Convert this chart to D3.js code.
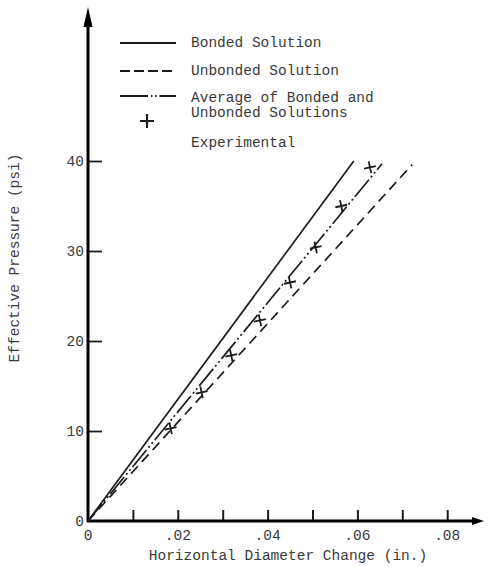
<!DOCTYPE html>
<html>
<head>
<meta charset="utf-8">
<script src="https://cdn.jsdelivr.net/npm/d3@7"></script>
<style>
  html, body { margin: 0; padding: 0; background: #fff; }
  svg { display: block; }
  text { font-family: "Liberation Mono", "DejaVu Sans Mono", monospace; fill: #3a3a3a; }
</style>
</head>
<body>
<svg id="chart" width="488" height="567"></svg>
<script>
// Pressure (psi) versus horizontal diameter change (in.)
const xTicks = [0.01, 0.02, 0.03, 0.04, 0.05, 0.06, 0.07, 0.08];
const xTickLabels = ["0", ".02", ".04", ".06", ".08"];
const xLabelValues = [0, 0.02, 0.04, 0.06, 0.08];
const yTicks = [10, 20, 30, 40];
const yTickLabels = ["0", "10", "20", "30", "40"];
const yLabelValues = [0, 10, 20, 30, 40];

// Theoretical solutions: straight lines from the origin
const bondedX = [0, 0.0592];
const bondedY = [0, 40];
const unbondedX = [0, 0.0722];
const unbondedY = [0, 39.6];
const averageX = [0, 0.0655];
const averageY = [0, 39.7];

// Measured points
const expX = [0.0184, 0.0253, 0.0319, 0.0383, 0.0450, 0.0507, 0.0564, 0.0628];
const expY = [10.3, 14.3, 18.4, 22.3, 26.5, 30.4, 35.0, 39.3];

const legendLabels = [
  ["Bonded Solution"],
  ["Unbonded Solution"],
  ["Average of Bonded and", "Unbonded Solutions"],
  ["Experimental"]
];

const svg = d3.select("#chart");
const x = d3.scaleLinear().domain([0, 0.09]).range([88, 492.1]);
const y = d3.scaleLinear().domain([0, 40]).range([521, 161]);

const ink = "#1c1c1c";

// Axis ticks (pointing into the plot) and labels
const xAxis = d3.axisBottom(x).tickValues(xTicks).tickSizeInner(-11).tickSizeOuter(0).tickFormat("");
svg.append("g").attr("transform", `translate(0,${y(0)})`).call(xAxis)
  .call(g => g.select(".domain").remove())
  .call(g => g.selectAll(".tick line").attr("stroke", ink).attr("stroke-width", 2));

svg.append("g").selectAll("text").data(xLabelValues).join("text")
  .attr("x", d => x(d)).attr("y", 540)
  .attr("text-anchor", "middle").attr("font-size", 14.5)
  .text((d, i) => xTickLabels[i]);

const yAxis = d3.axisLeft(y).tickValues(yTicks).tickSizeInner(-14).tickSizeOuter(0).tickFormat("");
svg.append("g").attr("transform", `translate(${x(0)},0)`).call(yAxis)
  .call(g => g.select(".domain").remove())
  .call(g => g.selectAll(".tick line").attr("stroke", ink).attr("stroke-width", 1.8));

svg.append("g").selectAll("text").data(yLabelValues).join("text")
  .attr("x", 84).attr("y", d => y(d) + 5)
  .attr("text-anchor", "end").attr("font-size", 14.5)
  .text((d, i) => yTickLabels[i]);

// Axis lines with arrowheads
svg.append("line").attr("x1", x(0)).attr("y1", y(0) + 1).attr("x2", x(0)).attr("y2", 22)
  .attr("stroke", "#000").attr("stroke-width", 3);
svg.append("path").attr("d", `M${x(0)},7 L${x(0) - 4.5},27 L${x(0) + 4.5},27 Z`).attr("fill", "#000");
svg.append("line").attr("x1", x(0) - 1).attr("y1", y(0)).attr("x2", 474).attr("y2", y(0))
  .attr("stroke", "#000").attr("stroke-width", 3);
svg.append("path").attr("d", `M484,${y(0)} L472,${y(0) - 4} L472,${y(0) + 4} Z`).attr("fill", "#000");

// Axis titles
svg.append("text").attr("x", 288).attr("y", 560).attr("text-anchor", "middle")
  .attr("font-size", 14.5).text("Horizontal Diameter Change (in.)");
svg.append("text").attr("transform", "translate(19,258) rotate(-90)").attr("text-anchor", "middle")
  .attr("font-size", 14.5).text("Effective Pressure (psi)");

// Solution lines
const line = d3.line().x(d => x(d[0])).y(d => y(d[1]));
const styles = {
  bonded: { dash: null, w: 1.7 },
  unbonded: { dash: "10,6", w: 1.7 },
  average: { dash: "22,3,2,3,2,3", w: 1.7 }
};
const series = [
  { key: "bonded", pts: d3.zip(bondedX, bondedY) },
  { key: "average", pts: d3.zip(averageX, averageY) },
  { key: "unbonded", pts: d3.zip(unbondedX, unbondedY) }
];
svg.append("g").selectAll("path").data(series).join("path")
  .attr("d", d => line(d.pts)).attr("fill", "none").attr("stroke", ink)
  .attr("stroke-width", d => styles[d.key].w)
  .attr("stroke-dasharray", d => styles[d.key].dash);

// Experimental crosses
const cross = s => `M${-s},0 L${s},0 M0,${-s} L0,${s}`;
svg.append("g").selectAll("path").data(d3.zip(expX, expY)).join("path")
  .attr("transform", d => `translate(${x(d[0])},${y(d[1])}) rotate(-12)`)
  .attr("d", cross(6)).attr("fill", "none").attr("stroke", ink).attr("stroke-width", 1.8);

// Legend
const legend = svg.append("g");
const legendKeys = ["bonded", "unbonded", "average"];
const legendY = [43, 71, 96];
legendKeys.forEach((k, i) => {
  legend.append("line").attr("x1", 120).attr("x2", 176).attr("y1", legendY[i]).attr("y2", legendY[i])
    .attr("stroke", ink).attr("stroke-width", 2.2)
    .attr("stroke-dasharray", k === "unbonded" ? "10,4" : k === "average" ? "28,3,1.5,2.5,1.5,3,40" : null);
});
legend.append("path").attr("transform", "translate(147,121)").attr("d", cross(7))
  .attr("fill", "none").attr("stroke", ink).attr("stroke-width", 2.2);

const textBaselines = [[47], [75], [101.5, 116.5], [147]];
legendLabels.forEach((lines, i) => {
  lines.forEach((t, j) => {
    legend.append("text").attr("x", 191).attr("y", textBaselines[i][j])
      .attr("font-size", 14.5).text(t);
  });
});
</script>
</body>
</html>
